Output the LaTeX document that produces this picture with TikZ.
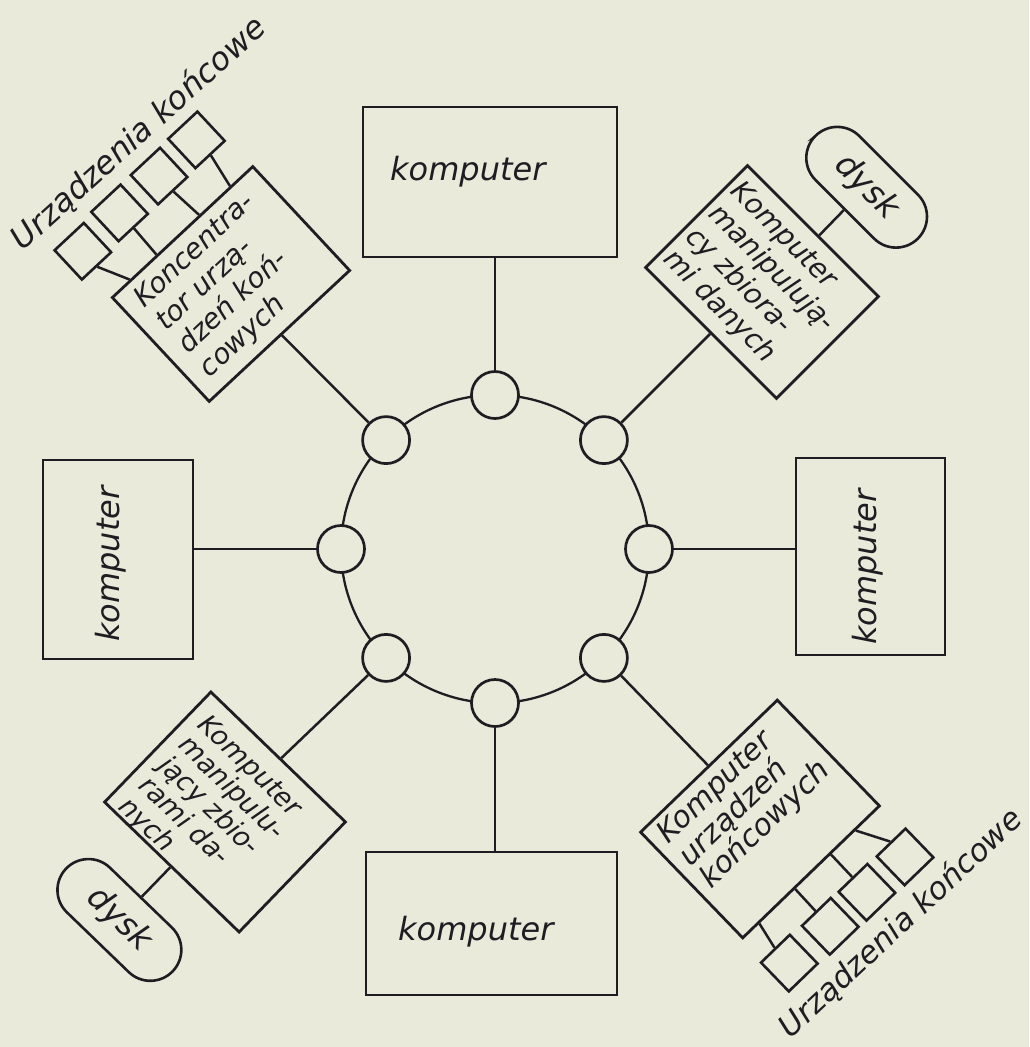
\documentclass[tikz,border=0pt]{standalone}
\usepackage{fontspec}
\newfontfamily\lett{DejaVu Sans Oblique}
\usetikzlibrary{calc}
\definecolor{paper}{RGB}{234,234,219}
\definecolor{ink}{RGB}{30,30,34}
\begin{document}
\begin{tikzpicture}[x=1pt,y=-1pt,
  box/.style={draw=ink, line width=2.8pt, rectangle, inner sep=0pt},
  lbl/.style={text=ink, inner sep=0pt, font=\lett\fontsize{32}{36}\selectfont},
  boxtxt/.style={text=ink, inner sep=0pt, align=left, anchor=north west},
  dev/.style={draw=ink, line width=2.6pt, rectangle, minimum size=40pt, inner sep=0pt},
  disk/.style={draw=ink, line width=2.6pt, rectangle, rounded corners=31pt, minimum height=62pt, inner sep=0pt, fill=paper, text=ink, font=\lett\fontsize{33}{36}\selectfont},
  station/.style={circle, draw=ink, line width=2.7pt, fill=paper, minimum size=47pt, inner sep=0pt},
  wire/.style={draw=ink, line width=2.5pt},
]
\fill[paper] (0,0) rectangle (1029,1047);
\useasboundingbox (0,0) rectangle (1029,1047);

% ring
\node[circle, draw=ink, line width=2.3pt, minimum size=308pt, inner sep=0pt] (ring) at (495,549) {};
\node[station] (cN)  at (495,395) {};
\node[station] (cS)  at (495,703) {};
\node[station] (cW)  at (341,549) {};
\node[station] (cE)  at (649,549) {};
\node[station] (cNW) at (386.1,440.1) {};
\node[station] (cNE) at (603.9,440.1) {};
\node[station] (cSW) at (386.1,657.9) {};
\node[station] (cSE) at (603.9,657.9) {};

% plain computers
\node[box, minimum width=254pt, minimum height=150pt] (top) at (490,182) {};
\node[lbl, anchor=west] (ttop) at (390,172) {komputer};
\node[box, minimum width=150pt, minimum height=199pt] (left) at (118,559.5) {};
\node[lbl, rotate=90] (tleft) at (111,564) {komputer};
\node[box, minimum width=149pt, minimum height=197pt] (right) at (870.5,556.5) {};
\node[lbl, rotate=90] (tright) at (867.5,567) {komputer};
\node[box, minimum width=251pt, minimum height=143pt] (bot) at (491.5,923.5) {};
\node[lbl, anchor=west] (tbot) at (398,932) {komputer};

\draw[wire] (cN) -- (cN |- top.south);
\draw[wire] (cS) -- (cS |- bot.north);
\draw[wire] (cW) -- (cW -| left.east);
\draw[wire] (cE) -- (cE -| right.west);

% concentrator (top left)
\begin{scope}[shift={(231,284)}, rotate=43, transform shape]
  \node[box, minimum width=192pt, minimum height=142pt] (b1) at (0,0) {};
  \node[boxtxt, font=\lett\fontsize{28}{32}\selectfont] (t1) at (-80,-62) {Koncentra-\\tor urzą-\\dzeń koń-\\cowych};
  \node[dev] (d1a) at (-86,-125) {};
  \node[dev] (d1b) at (-33,-128) {};
  \node[dev] (d1c) at (21,-128) {};
  \node[dev] (d1d) at (73,-129) {};
  \draw[wire] (d1a.south) -- ($(b1.north west)!0.135!(b1.north east)$);
  \draw[wire] (d1b.south) -- ($(b1.north west)!0.323!(b1.north east)$);
  \draw[wire] (d1c.south) -- ($(b1.north west)!0.622!(b1.north east)$);
  \draw[wire] (d1d.south) -- ($(b1.north west)!0.839!(b1.north east)$);
\end{scope}
\node[lbl, rotate=42] (u1) at (139,134) {Urządzenia końcowe};

% data computer (top right)
\begin{scope}[shift={(762,282)}, rotate=-45, transform shape]
  \node[box, minimum width=185pt, minimum height=144pt] (b2) at (0,0) {};
  \node[boxtxt, font=\lett\fontsize{28}{32}\selectfont] (t2) at (-86,-61) {Komputer\\manipulują-\\cy zbiora-\\mi danych};
  \node[disk, minimum width=145pt] (k2) at (7,-141) {dysk};
  \draw[wire] (k2.south) -- ($(b2.north west)!0.54!(b2.north east)$);
\end{scope}

% data computer (bottom left)
\begin{scope}[shift={(225,812)}, rotate=-44, transform shape]
  \node[box, minimum width=187pt, minimum height=153pt] (b3) at (0,0) {};
  \node[boxtxt, font=\lett\fontsize{27}{28.5}\selectfont] (t3) at (-80,-62) {Komputer\\manipulu-\\jący zbio-\\rami da-\\nych};
  \node[disk, minimum width=148pt] (k3) at (-1,151) {dysk};
  \draw[wire] (k3.north) -- ($(b3.south west)!0.495!(b3.south east)$);
\end{scope}

% terminal computer (bottom right)
\begin{scope}[shift={(760,819)}, rotate=44, transform shape]
  \node[box, minimum width=190pt, minimum height=147pt] (b4) at (0,0) {};
  \node[boxtxt, font=\lett\fontsize{30}{30}\selectfont] (t4) at (-84,-67) {Komputer\\urządzeń\\końcowych};
  \node[dev] (d4a) at (-79,124) {};
  \node[dev] (d4b) at (-24,126) {};
  \node[dev] (d4c) at (26,127) {};
  \node[dev] (d4d) at (78,128) {};
  \draw[wire] (d4a.north) -- ($(b4.south west)!0.121!(b4.south east)$);
  \draw[wire] (d4b.north) -- ($(b4.south west)!0.379!(b4.south east)$);
  \draw[wire] (d4c.north) -- ($(b4.south west)!0.637!(b4.south east)$);
  \draw[wire] (d4d.north) -- ($(b4.south west)!0.816!(b4.south east)$);
\end{scope}
\node[lbl, rotate=43, font=\lett\fontsize{31}{36}\selectfont] (u2) at (901,924) {Urządzenia końcowe};

% links to ring
\draw[wire] (b1) -- (cNW);
\draw[wire] (b2) -- (cNE);
\draw[wire] (b3) -- (cSW);
\draw[wire] (b4) -- (cSE);
\end{tikzpicture}
\end{document}
